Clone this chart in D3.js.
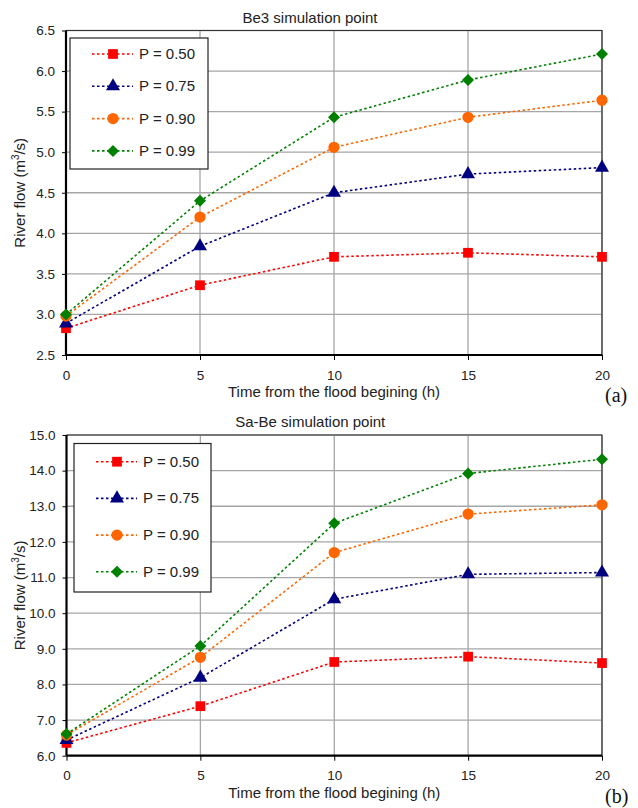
<!DOCTYPE html>
<html>
<head>
<meta charset="utf-8">
<script src="https://cdn.jsdelivr.net/npm/d3@7/dist/d3.min.js"></script>
<style>
  html, body { margin: 0; padding: 0; background: #fff; }
  svg { display: block; font-family: "Liberation Sans", Arial, sans-serif; }
</style>
</head>
<body>
<svg id="chart" width="638" height="808"></svg>
<script>
// Time steps (h) and probability levels
const hours = [0, 5, 10, 15, 20];
const xTicks = [0, 5, 10, 15, 20];
const seriesNames = ["P = 0.50", "P = 0.75", "P = 0.90", "P = 0.99"];
const seriesColors = ["#ff0000", "#000080", "#ff6600", "#008000"];
const seriesSymbols = ["square", "triangle", "circle", "diamond"];

// Be3 simulation point (m3/s)
const be3P50 = [2.83, 3.36, 3.71, 3.76, 3.71];
const be3P75 = [2.89, 3.84, 4.50, 4.73, 4.81];
const be3P90 = [2.98, 4.20, 5.06, 5.43, 5.64];
const be3P99 = [3.00, 4.40, 5.43, 5.89, 6.21];
const be3Ticks = [2.5, 3.0, 3.5, 4.0, 4.5, 5.0, 5.5, 6.0, 6.5];

// Sa-Be simulation point (m3/s)
const sabeP50 = [6.36, 7.39, 8.63, 8.78, 8.60];
const sabeP75 = [6.44, 8.19, 10.39, 11.09, 11.14];
const sabeP90 = [6.58, 8.76, 11.70, 12.78, 13.04];
const sabeP99 = [6.61, 9.08, 12.52, 13.92, 14.32];
const sabeTicks = [6, 7, 8, 9, 10, 11, 12, 13, 14, 15];

const svg = d3.select("#chart");

// square-proportioned diamond marker
const wideDiamond = {
  draw(ctx, size) {
    const r = Math.sqrt(size / 2);
    ctx.moveTo(0, -r); ctx.lineTo(r, 0); ctx.lineTo(0, r); ctx.lineTo(-r, 0); ctx.closePath();
  }
};
const symbolTypes = {
  square: d3.symbolSquare,
  triangle: d3.symbolTriangle,
  circle: d3.symbolCircle,
  diamond: wideDiamond
};
const symbolSizes = { square: 95, triangle: 85, circle: 100, diamond: 72 };

function drawPanel(cfg) {
  const g = svg.append("g");
  const x = d3.scaleLinear().domain([0, 20]).range([cfg.left, cfg.right]);
  const y = d3.scaleLinear().domain(cfg.yDomain).range([cfg.bottom, cfg.top]);

  // grid
  g.append("g").selectAll("line.h").data(cfg.yTicks.slice(1)).join("line")
    .attr("x1", cfg.left).attr("x2", cfg.right)
    .attr("y1", d => y(d)).attr("y2", d => y(d))
    .attr("stroke", "#a6a6a6").attr("stroke-width", 1.3);
  g.append("g").selectAll("line.v").data(xTicks.slice(1)).join("line")
    .attr("x1", d => x(d)).attr("x2", d => x(d))
    .attr("y1", cfg.top).attr("y2", cfg.bottom)
    .attr("stroke", "#a6a6a6").attr("stroke-width", 1.3);

  // plot frame (top / right)
  g.append("path")
    .attr("d", `M${cfg.left},${cfg.top}H${cfg.right}V${cfg.bottom}`)
    .attr("fill", "none").attr("stroke", "#333").attr("stroke-width", 1.2);

  // axes
  const yAxis = d3.axisLeft(y).tickValues(cfg.yTicks).tickFormat(d3.format(".1f")).tickSize(5).tickPadding(6);
  const ya = g.append("g").attr("transform", `translate(${cfg.left},0)`).call(yAxis);
  const xAxis = d3.axisBottom(x).tickValues(xTicks).tickSize(5).tickPadding(10);
  const xa = g.append("g").attr("transform", `translate(0,${cfg.bottom})`).call(xAxis);
  [ya, xa].forEach(a => {
    a.select(".domain").attr("stroke", "#000").attr("stroke-width", 2.2);
    a.selectAll(".tick line").attr("stroke", "#000").attr("stroke-width", 1);
    a.selectAll(".tick text").attr("fill", "#222").style("font-size", "13.5px")
      .style("font-family", '"Liberation Sans", Arial, sans-serif');
  });
  ya.select(".domain").attr("d", `M0,${cfg.bottom}V${cfg.top}`);
  xa.select(".domain").attr("d", `M${cfg.left},0H${cfg.right}`);
  ya.selectAll(".tick line").attr("x2", -4);

  // series
  const line = d3.line().x((d, i) => x(hours[i])).y(d => y(d));
  cfg.series.forEach((vals, s) => {
    g.append("path").datum(vals)
      .attr("d", line)
      .attr("fill", "none")
      .attr("stroke", seriesColors[s])
      .attr("stroke-width", 1.6)
      .attr("stroke-dasharray", "2.5,2.5");
  });
  cfg.series.forEach((vals, s) => {
    const sym = d3.symbol().type(symbolTypes[seriesSymbols[s]]).size(symbolSizes[seriesSymbols[s]]);
    g.append("g").selectAll("path").data(vals).join("path")
      .attr("transform", (d, i) => `translate(${x(hours[i])},${y(d)})`)
      .attr("d", sym)
      .attr("fill", seriesColors[s]);
  });

  // title
  g.append("text").attr("x", (cfg.left + cfg.right) / 2 - 24).attr("y", cfg.top - 8)
    .attr("text-anchor", "middle").style("font-size", "15px").attr("fill", "#222")
    .text(cfg.title);

  // axis titles
  g.append("text").attr("x", (cfg.left + cfg.right) / 2).attr("y", cfg.bottom + 42)
    .attr("text-anchor", "middle").style("font-size", "15px").attr("fill", "#222")
    .text("Time from the flood begining (h)");
  const yt = g.append("text")
    .attr("transform", `translate(25,${(cfg.top + cfg.bottom) / 2}) rotate(-90)`)
    .attr("text-anchor", "middle").style("font-size", "15px").attr("fill", "#222");
  yt.append("tspan").text("River flow (m");
  yt.append("tspan").attr("dy", -6).style("font-size", "10px").text("3");
  yt.append("tspan").attr("dy", 6).text("/s)");

  // panel tag
  g.append("text").attr("x", cfg.right + 3).attr("y", cfg.bottom + 47)
    .style("font-family", '"Liberation Serif", "Times New Roman", serif')
    .style("font-size", "20px").attr("fill", "#111").text(cfg.tag);

  // legend
  const lg = g.append("g");
  lg.append("rect").attr("x", cfg.legend.x).attr("y", cfg.legend.y)
    .attr("width", cfg.legend.w).attr("height", cfg.legend.h)
    .attr("fill", "#fff").attr("stroke", "#222").attr("stroke-width", 1.2);
  seriesNames.forEach((name, s) => {
    const cy = cfg.legend.y + cfg.legend.first + s * cfg.legend.step;
    const lx = cfg.legend.x + 22;
    lg.append("line").attr("x1", lx).attr("x2", lx + 41).attr("y1", cy).attr("y2", cy)
      .attr("stroke", seriesColors[s]).attr("stroke-width", 1.6).attr("stroke-dasharray", "2.5,2.5");
    lg.append("path").attr("transform", `translate(${lx + 21},${cy})`)
      .attr("d", d3.symbol().type(symbolTypes[seriesSymbols[s]]).size(symbolSizes[seriesSymbols[s]]))
      .attr("fill", seriesColors[s]);
    lg.append("text").attr("x", lx + 47).attr("y", cy + 5)
      .style("font-size", "15px").attr("fill", "#222").text(name);
  });
}

drawPanel({
  title: "Be3 simulation point", tag: "(a)",
  left: 66, right: 602, top: 30.5, bottom: 355,
  yDomain: [2.5, 6.5], yTicks: be3Ticks,
  series: [be3P50, be3P75, be3P90, be3P99],
  legend: { x: 70, y: 38, w: 138, h: 131, first: 16, step: 32.3 }
});

drawPanel({
  title: "Sa-Be simulation point", tag: "(b)",
  left: 66.5, right: 602, top: 435, bottom: 755.7,
  yDomain: [6, 15], yTicks: sabeTicks,
  series: [sabeP50, sabeP75, sabeP90, sabeP99],
  legend: { x: 74, y: 443.5, w: 137, h: 148.5, first: 18.2, step: 36.7 }
});
</script>
</body>
</html>
